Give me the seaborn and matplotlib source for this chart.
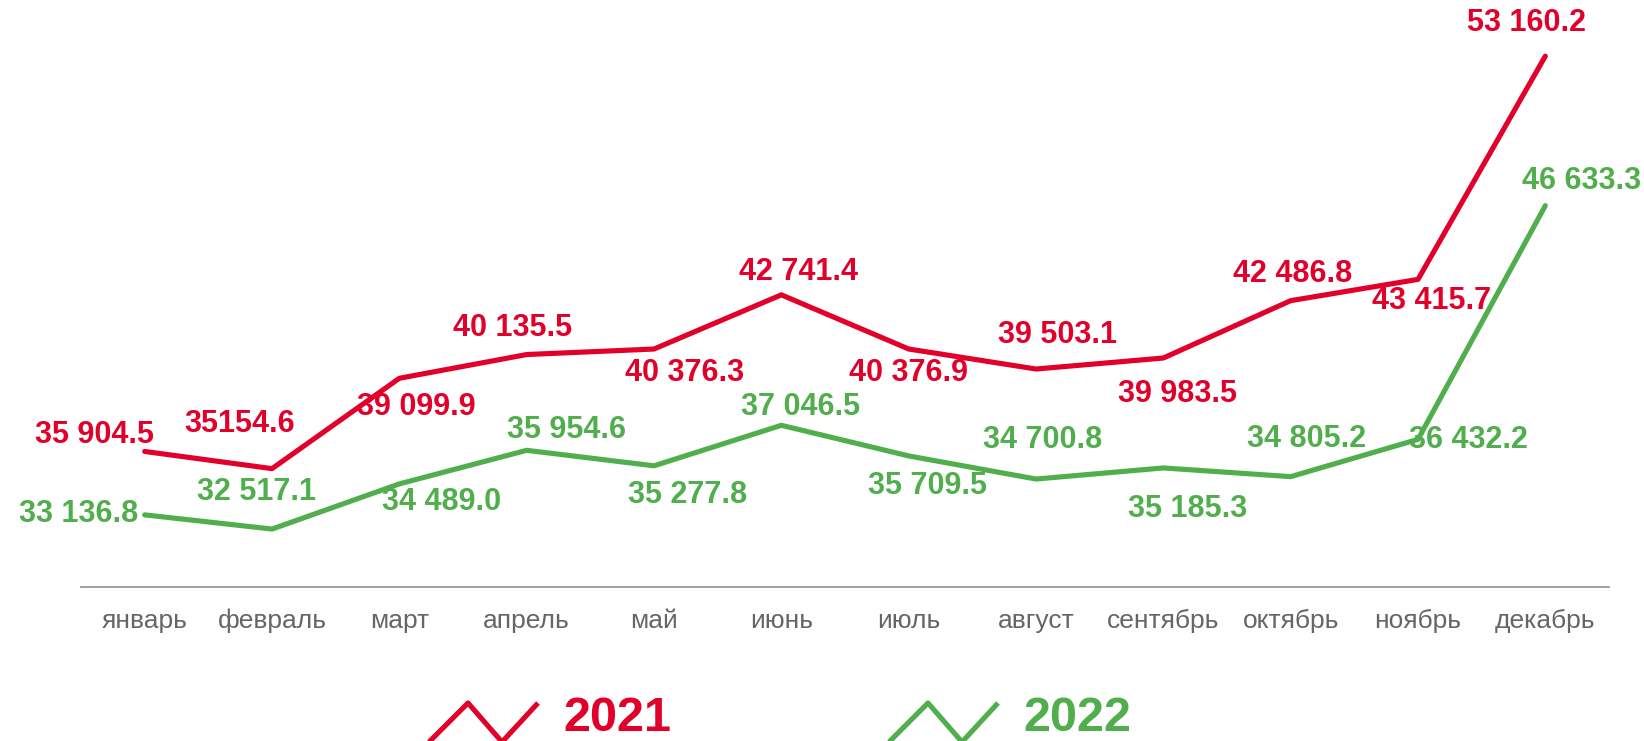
import numpy as np
import pandas as pd
import matplotlib
matplotlib.use('Agg')
import matplotlib.pyplot as plt
import seaborn as sns
from matplotlib.lines import Line2D

# Data
months = ['январь', 'февраль', 'март', 'апрель', 'май', 'июнь',
          'июль', 'август', 'сентябрь', 'октябрь', 'ноябрь', 'декабрь']
values_2021 = [35904.5, 35154.6, 39099.9, 40135.5, 40376.3, 42741.4,
               40376.9, 39503.1, 39983.5, 42486.8, 43415.7, 53160.2]
values_2022 = [33136.8, 32517.1, 34489.0, 35954.6, 35277.8, 37046.5,
               35709.5, 34700.8, 35185.3, 34805.2, 36432.2, 46633.3]
labels_2021 = ['35 904.5', '35154.6', '39 099.9', '40 135.5', '40 376.3', '42 741.4',
               '40 376.9', '39 503.1', '39 983.5', '42 486.8', '43 415.7', '53 160.2']
labels_2022 = ['33 136.8', '32 517.1', '34 489.0', '35 954.6', '35 277.8', '37 046.5',
               '35 709.5', '34 700.8', '35 185.3', '34 805.2', '36 432.2', '46 633.3']

RED = '#E2002B'
GREEN = '#50AE4C'

# label offsets in pixels (dx, dy up)
offsets_2021 = [(-50, 16), (-32, 45), (17, -29), (-14, 27), (31, -24), (17, 23),
                (0, -24), (21, 34), (14, -36), (2, 27), (14, -22), (-19, 33)]
offsets_2022 = [(-66, 1), (-16, 37), (42, -18), (40, 20), (34, -29), (19, 18),
                (19, -30), (7, 39), (24, -41), (16, 38), (50, -1), (36, 25)]

df = pd.DataFrame({
    'month': list(range(12)) * 2,
    'value': values_2021 + values_2022,
    'year': ['2021'] * 12 + ['2022'] * 12,
})

sns.set_style('white')
plt.rcParams['font.family'] = ['Liberation Sans', 'DejaVu Sans']

fig = plt.figure(figsize=(16.44, 7.41), dpi=100)
ax = fig.add_axes([0.0493, 0.2082, 0.9294, 0.7729])

sns.lineplot(data=df, x='month', y='value', hue='year',
             palette={'2021': RED, '2022': GREEN}, linewidth=3.7,
             legend=False, ax=ax, solid_capstyle='round')

for vals, labs, offs, col in [(values_2021, labels_2021, offsets_2021, RED),
                              (values_2022, labels_2022, offsets_2022, GREEN)]:
    for i, (v, t, o) in enumerate(zip(vals, labs, offs)):
        ax.annotate(t, xy=(i, v), xytext=o, textcoords='offset pixels',
                    ha='center', va='center', fontsize=22,
                    fontweight='bold', color=col)

ax.set_xlim(-0.5, 11.5)
ax.set_ylim(30000, 55000)
ax.set_xticks(range(12))
ax.set_xticklabels(months, fontsize=19, color='#666666')
ax.set_yticks([])
ax.set_xlabel('')
ax.set_ylabel('')
ax.tick_params(axis='x', length=0, pad=16)
for s in ['top', 'right', 'left']:
    ax.spines[s].set_visible(False)
ax.spines['bottom'].set_color('#999999')
ax.spines['bottom'].set_linewidth(1.3)

# Legend drawn at the bottom
W, H = 1644.0, 741.0
for x0, col, txt in [(429, RED, '2021'), (889, GREEN, '2022')]:
    xs = np.array([x0, x0 + 39, x0 + 73, x0 + 109]) / W
    ys = 1 - np.array([742, 703, 742, 703]) / H
    fig.add_artist(Line2D(xs, ys, color=col, linewidth=3.7,
                          transform=fig.transFigure, solid_capstyle='butt'))
    fig.text((x0 + 134) / W, (H - 731) / H, txt, color=col, fontsize=35,
             fontweight='bold', ha='left', va='baseline')

fig.savefig('out.png', dpi=100)
